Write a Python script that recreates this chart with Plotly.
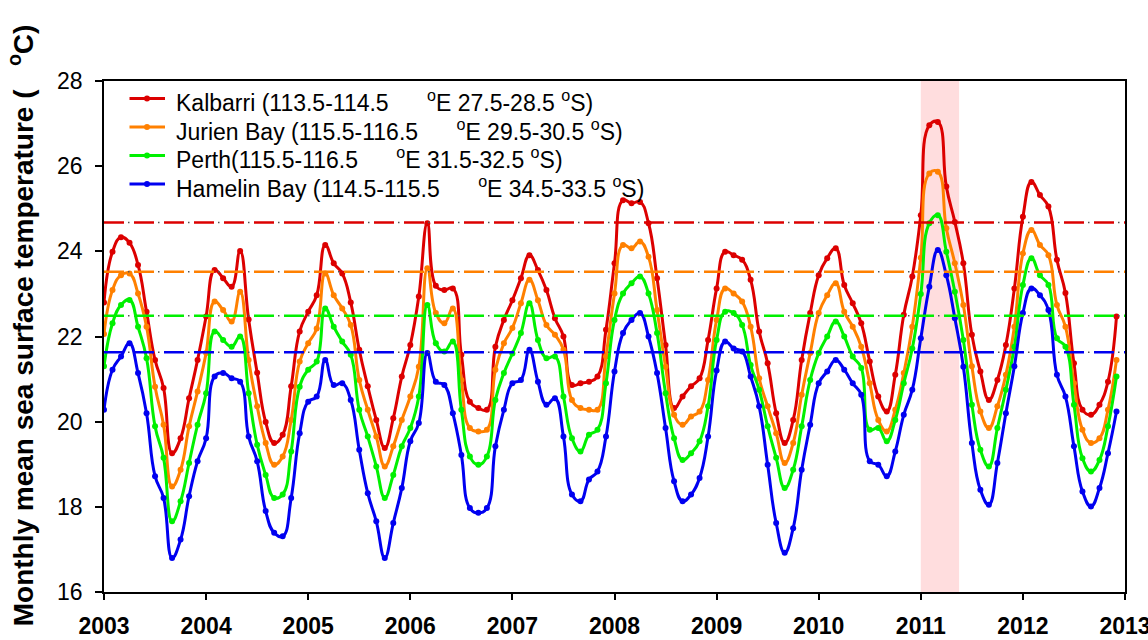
import plotly.graph_objects as go

# ---------------- data ----------------
start_year = 2003
n_months = 120
decimal_years = [start_year + i / 12 for i in range(n_months)]

kalbarri = [
    22.80, 23.99, 24.33, 24.20, 23.68, 22.58, 21.45, 20.79, 19.26, 19.61, 20.55, 21.45,
    22.47, 23.56, 23.37, 23.17, 24.01, 22.40, 21.15, 19.99, 19.50, 19.69, 20.83, 22.12,
    22.58, 22.97, 24.15, 23.72, 23.48, 22.80, 21.69, 20.83, 20.04, 19.38, 20.08, 21.06,
    21.80, 22.94, 24.66, 23.19, 23.09, 23.13, 21.57, 20.47, 20.32, 20.28, 21.76, 22.39,
    22.85, 23.37, 23.91, 23.56, 23.09, 22.43, 22.00, 20.86, 20.90, 20.94, 21.06, 22.16,
    23.72, 25.20, 25.13, 25.16, 24.66, 23.37, 21.80, 20.32, 20.59, 20.83, 21.02, 21.92,
    23.13, 23.99, 23.91, 23.80, 23.33, 22.12, 21.37, 20.20, 19.50, 20.04, 21.45, 22.55,
    23.44, 23.84, 24.07, 23.21, 22.78, 22.31, 21.41, 20.59, 20.24, 21.10, 22.51, 23.41,
    24.85, 26.96, 27.04, 25.52, 24.69, 23.72, 22.04, 21.18, 20.51, 20.98, 21.80, 23.13,
    24.81, 25.63, 25.32, 25.05, 23.80, 23.02, 21.37, 20.28, 20.16, 20.40, 20.94, 22.47,
]
jurien_bay = [
    22.06, 23.09, 23.44, 23.48, 23.01, 22.23, 20.82, 19.93, 18.48, 18.87, 19.89, 20.71,
    21.61, 22.82, 22.62, 22.35, 23.05, 21.45, 20.36, 19.50, 18.99, 19.18, 20.04, 21.41,
    21.84, 22.19, 23.48, 22.97, 22.66, 22.27, 20.98, 20.28, 19.65, 18.95, 19.42, 20.04,
    20.59, 21.29, 23.60, 22.55, 22.31, 22.66, 20.98, 19.85, 19.77, 19.81, 21.22, 21.84,
    22.20, 22.78, 23.33, 22.85, 22.27, 22.04, 21.69, 20.51, 20.32, 20.28, 20.28, 21.53,
    23.01, 24.15, 24.07, 24.23, 23.87, 22.62, 21.29, 20.16, 19.93, 20.12, 20.24, 20.98,
    22.39, 23.13, 23.01, 22.82, 22.23, 21.02, 20.36, 19.73, 19.03, 19.50, 20.63, 21.61,
    22.55, 22.97, 23.25, 22.58, 22.23, 21.76, 20.90, 20.04, 19.77, 20.28, 21.14, 22.23,
    23.85, 25.83, 25.87, 24.54, 23.72, 22.74, 21.30, 20.24, 19.85, 20.36, 21.10, 22.23,
    23.95, 24.50, 24.15, 23.91, 22.74, 22.23, 20.90, 19.81, 19.50, 19.61, 20.28, 21.45,
]
perth = [
    21.30, 22.31, 22.74, 22.86, 22.23, 21.49, 19.89, 19.15, 17.66, 18.13, 19.03, 19.93,
    20.67, 22.12, 21.92, 21.76, 22.00, 20.67, 19.46, 18.75, 18.21, 18.29, 19.30, 20.82,
    21.22, 21.41, 22.66, 22.23, 21.88, 21.57, 20.28, 19.65, 18.95, 18.21, 18.75, 19.42,
    19.85, 20.59, 22.74, 21.84, 21.65, 21.88, 20.28, 19.18, 18.99, 19.18, 20.51, 21.14,
    21.60, 22.08, 22.78, 21.92, 21.49, 21.53, 20.59, 19.61, 19.30, 19.69, 19.81, 20.90,
    22.39, 23.01, 23.25, 23.41, 23.01, 22.08, 20.67, 19.61, 19.10, 19.26, 19.54, 20.36,
    21.92, 22.58, 22.55, 22.27, 21.33, 20.75, 19.89, 19.15, 18.44, 18.87, 19.89, 20.98,
    21.61, 22.00, 22.35, 22.00, 21.53, 21.26, 19.81, 19.85, 19.54, 20.04, 20.90, 21.72,
    23.00, 24.66, 24.85, 23.99, 23.05, 21.92, 20.40, 19.34, 18.95, 19.85, 20.75, 21.76,
    23.21, 23.84, 23.44, 23.21, 21.96, 21.76, 20.40, 19.14, 18.83, 19.10, 19.89, 21.06,
]
hamelin_bay = [
    20.28, 21.22, 21.53, 21.84, 21.14, 20.20, 18.72, 18.21, 16.80, 17.23, 18.25, 19.07,
    19.61, 21.06, 21.14, 21.02, 20.94, 19.65, 19.07, 17.90, 17.39, 17.31, 18.21, 19.73,
    20.47, 20.59, 21.45, 20.86, 20.90, 20.51, 19.34, 18.32, 17.66, 16.80, 17.62, 18.44,
    19.54, 19.97, 21.61, 20.94, 20.86, 20.20, 19.22, 17.97, 17.86, 17.97, 19.42, 20.28,
    20.90, 20.98, 21.69, 20.94, 20.40, 20.55, 19.65, 18.29, 18.13, 18.64, 18.83, 19.65,
    21.18, 22.08, 22.39, 22.55, 22.00, 21.14, 19.85, 18.60, 18.13, 18.29, 18.68, 19.65,
    21.20, 21.88, 21.72, 21.65, 21.06, 20.36, 18.99, 17.62, 16.92, 17.50, 18.87, 19.93,
    20.90, 21.18, 21.45, 21.22, 20.90, 20.63, 19.07, 18.99, 18.72, 19.30, 20.16, 20.75,
    21.96, 23.17, 24.03, 23.44, 22.43, 21.29, 19.50, 18.40, 18.05, 19.03, 20.20, 21.30,
    22.55, 23.13, 22.97, 22.62, 21.10, 20.59, 19.42, 18.36, 18.01, 18.44, 19.26, 20.24,
]

gap = "\u00a0" * 6
series_names = [
    "Kalbarri (113.5-114.5" + gap + "<sup>o</sup>E 27.5-28.5 <sup>o</sup>S)",
    "Jurien Bay (115.5-116.5" + gap + "<sup>o</sup>E 29.5-30.5 <sup>o</sup>S)",
    "Perth(115.5-116.5" + gap + "<sup>o</sup>E 31.5-32.5 <sup>o</sup>S)",
    "Hamelin Bay (114.5-115.5" + gap + "<sup>o</sup>E 34.5-33.5 <sup>o</sup>S)",
]
series_values = [kalbarri, jurien_bay, perth, hamelin_bay]
series_colors = ["#DC0000", "#FF8000", "#00F000", "#0000F0"]

# long-term reference levels (dashed lines)
reference_levels = [24.68, 23.52, 22.49, 21.63]
reference_x = [2003, 2013]

# highlighted period (early 2011 marine heatwave)
highlight_period = [2011.0, 2011.375]

year_ticks = list(range(2003, 2014))
temp_ticks = [16, 18, 20, 22, 24, 26, 28]

# ---------------- figure ----------------
FONT = "Liberation Sans, Arial, sans-serif"
L, R, T, B = 104, 23, 81, 48
W, H = 1148, 640

fig = go.Figure()

for name, vals, col in zip(series_names, series_values, series_colors):
    fig.add_trace(go.Scatter(
        x=decimal_years, y=vals, name=name, mode="lines+markers",
        line=dict(color=col, width=3, shape="spline", smoothing=1.3),
        marker=dict(color=col, size=6), showlegend=False,
    ))

for lvl, col in zip(reference_levels, series_colors):
    fig.add_trace(go.Scatter(
        x=reference_x, y=[lvl, lvl], mode="lines", showlegend=False,
        line=dict(color="#555555", width=1.5, dash="0px,24px,1.5px,4.5px"),
        hoverinfo="skip",
    ))
    fig.add_trace(go.Scatter(
        x=reference_x, y=[lvl, lvl], mode="lines", showlegend=False,
        line=dict(color=col, width=2.5, dash="20px,10px"),
        hoverinfo="skip",
    ))

# ---- legend drawn on an overlay axis measured in pixels of the plot area ----
legend_row_y = [98.5, 127.0, 155.5, 184.0]
for name, col, ry in zip(series_names, series_colors, legend_row_y):
    fig.add_trace(go.Scatter(
        x=[129.5, 165.0], y=[ry, ry], xaxis="x2", yaxis="y2",
        mode="lines", line=dict(color=col, width=3),
        showlegend=False, hoverinfo="skip",
    ))
    fig.add_trace(go.Scatter(
        x=[147.0], y=[ry], xaxis="x2", yaxis="y2",
        mode="markers", marker=dict(color=col, size=6),
        showlegend=False, hoverinfo="skip",
    ))
    fig.add_annotation(
        text=name, xref="x2", yref="y2", x=174.0, y=ry + 2.5,
        xanchor="left", yanchor="middle", showarrow=False,
        font=dict(family=FONT, size=23, color="black"),
    )

fig.add_shape(
    type="rect", xref="x", yref="paper",
    x0=highlight_period[0], x1=highlight_period[1], y0=0, y1=1,
    fillcolor="#FFDDDE", line=dict(width=0), layer="below",
)

fig.add_annotation(
    text="<b>Monthly mean sea surface temperature (\u00a0\u00a0\u00a0<sup>o</sup>C)</b>",
    xref="paper", yref="paper", x=-0.081, y=0.5225,
    xanchor="center", yanchor="middle", textangle=-90, showarrow=False,
    font=dict(family=FONT, size=28, color="black"),
)

fig.update_layout(
    width=W, height=H,
    margin=dict(l=L, r=R, t=T, b=B, autoexpand=False),
    paper_bgcolor="white", plot_bgcolor="white",
    font=dict(family=FONT, color="black"),
    showlegend=False,
    xaxis=dict(
        range=[2003, 2013], tickvals=year_ticks,
        ticktext=["<b>%d</b>" % y for y in year_ticks],
        ticks="outside", ticklen=6, tickwidth=1.5, tickcolor="black",
        showline=True, linecolor="black", linewidth=1.5, mirror=True,
        showgrid=False, zeroline=False, automargin=False,
        ticklabeloverflow="allow",
        tickfont=dict(size=23, color="black"),
        ticklabelstandoff=7,
    ),
    yaxis=dict(
        range=[16, 28], tickvals=temp_ticks,
        ticks="outside", ticklen=7, tickwidth=1.5, tickcolor="black",
        showline=True, linecolor="black", linewidth=1.5, mirror=True,
        showgrid=False, zeroline=False, automargin=False,
        tickfont=dict(size=23, color="black"),
        ticklabelstandoff=8,
    ),
    xaxis2=dict(overlaying="x", range=[L, W - R], visible=False, fixedrange=True),
    yaxis2=dict(overlaying="y", range=[H - B, T], visible=False, fixedrange=True),
)

fig.write_html("out.html")
